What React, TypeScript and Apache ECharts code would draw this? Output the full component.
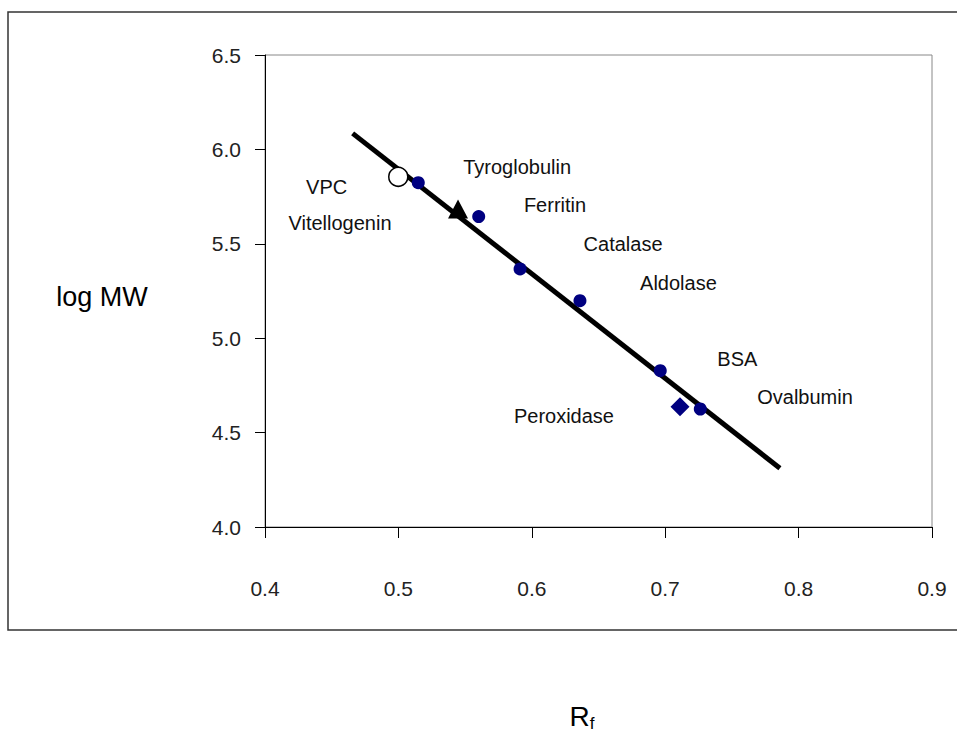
import React, { useEffect, useRef } from "react";
import * as echarts from "echarts";

const markerPoints: [number, number][] = [
  [0.5149, 5.824],
  [0.5602, 5.644],
  [0.5912, 5.367],
  [0.6361, 5.199],
  [0.6963, 4.828],
  [0.7263, 4.625],
];
const peroxidasePoint: [number, number][] = [[0.7111, 4.637]];
const vitellogeninPoint: [number, number][] = [[0.5447, 5.684]];
const vpcPoint: [number, number][] = [[0.4999, 5.855]];
const fitLine: [number, number][] = [
  [0.4657, 6.085],
  [0.786, 4.311],
];
const labelNames = ["VPC", "Vitellogenin", "Tyroglobulin", "Ferritin", "Catalase", "Aldolase", "BSA", "Ovalbumin", "Peroxidase"];
const labelX = [0.4462, 0.4562, 0.589, 0.6174, 0.6684, 0.7099, 0.7541, 0.8048, 0.6241];
const labelY = [5.8, 5.61, 5.907, 5.705, 5.499, 5.292, 4.89, 4.689, 4.588];
const xTicks = [0.4, 0.5, 0.6, 0.7, 0.8, 0.9];
const yTicks = [4.0, 4.5, 5.0, 5.5, 6.0, 6.5];

const FONT = "'Liberation Sans', Arial, Helvetica, sans-serif";
const NAVY = "#000080";

export default function App() {
  const ref = useRef<HTMLDivElement>(null);
  useEffect(() => {
    if (!ref.current) return;
    const chart = echarts.init(ref.current, null, { renderer: "svg" });
    const labelData = labelNames.map((n, i) => [labelX[i], labelY[i], n]);
    chart.setOption({
      animation: false,
      backgroundColor: "#fff",
      grid: {
        left: 265,
        top: 55,
        right: 25,
        bottom: 206,
        show: true,
        borderColor: "#888",
        borderWidth: 1,
        backgroundColor: "transparent",
      },
      xAxis: {
        type: "value",
        min: xTicks[0],
        max: xTicks[xTicks.length - 1],
        interval: 0.1,
        axisLine: { show: true, lineStyle: { color: "#000", width: 1 } },
        axisTick: { show: true, length: 11, lineStyle: { color: "#000" } },
        splitLine: { show: false },
        axisLabel: {
          margin: 51,
          fontSize: 21,
          fontFamily: FONT,
          color: "#222",
          formatter: (v: number) => v.toFixed(1),
        },
      },
      yAxis: {
        type: "value",
        min: yTicks[0],
        max: yTicks[yTicks.length - 1],
        interval: 0.5,
        axisLine: { show: true, lineStyle: { color: "#000", width: 1 } },
        axisTick: { show: true, length: 10, lineStyle: { color: "#000" } },
        splitLine: { show: false },
        axisLabel: {
          margin: 24,
          fontSize: 21,
          fontFamily: FONT,
          color: "#222",
          formatter: (v: number) => v.toFixed(1),
        },
      },
      graphic: [
        {
          type: "rect",
          shape: { x: 8, y: 12, width: 970, height: 618 },
          style: { fill: "none", stroke: "#333", lineWidth: 1.5 },
          silent: true,
        },
        {
          type: "text",
          x: 102,
          y: 297,
          style: {
            text: "log MW",
            fontSize: 27,
            fontFamily: FONT,
            fill: "#000",
            align: "center",
            verticalAlign: "middle",
          },
        },
        {
          type: "text",
          x: 582,
          y: 716,
          style: {
            text: "{r|R}{s|f}",
            fontFamily: FONT,
            fill: "#000",
            align: "center",
            verticalAlign: "middle",
            rich: {
              r: { fontSize: 28, fontFamily: FONT, fill: "#000" },
              s: { fontSize: 17, fontFamily: FONT, fill: "#000", padding: [14, 0, 0, 0] },
            },
          },
        },
      ],
      series: [
        {
          type: "line",
          data: fitLine,
          symbol: "none",
          lineStyle: { color: "#000", width: 5 },
          z: 2,
        },
        {
          type: "scatter",
          data: markerPoints,
          symbol: "circle",
          symbolSize: 13,
          itemStyle: { color: NAVY, opacity: 1 },
          z: 3,
        },
        {
          type: "scatter",
          data: peroxidasePoint,
          symbol: "diamond",
          symbolSize: [19, 19],
          itemStyle: { color: NAVY, opacity: 1 },
          z: 3,
        },
        {
          type: "scatter",
          data: vitellogeninPoint,
          symbol: "triangle",
          symbolSize: [20, 19],
          itemStyle: { color: "#000", opacity: 1 },
          z: 4,
        },
        {
          type: "scatter",
          data: vpcPoint,
          symbol: "circle",
          symbolSize: 19,
          itemStyle: { color: "#fff", borderColor: "#000", borderWidth: 1.5, opacity: 1 },
          z: 4,
        },
        {
          type: "scatter",
          data: labelData,
          symbolSize: 1,
          itemStyle: { color: "rgba(0,0,0,0)", opacity: 1 },
          label: {
            show: true,
            position: "inside",
            formatter: (p: any) => p.data[2],
            fontSize: 20,
            fontFamily: FONT,
            color: "#111",
          },
          z: 5,
        },
      ],
    });
    return () => chart.dispose();
  }, []);
  return (
    <div
      ref={ref}
      style={{ position: "fixed", left: 0, top: 0, width: 957, height: 733 }}
    />
  );
}
